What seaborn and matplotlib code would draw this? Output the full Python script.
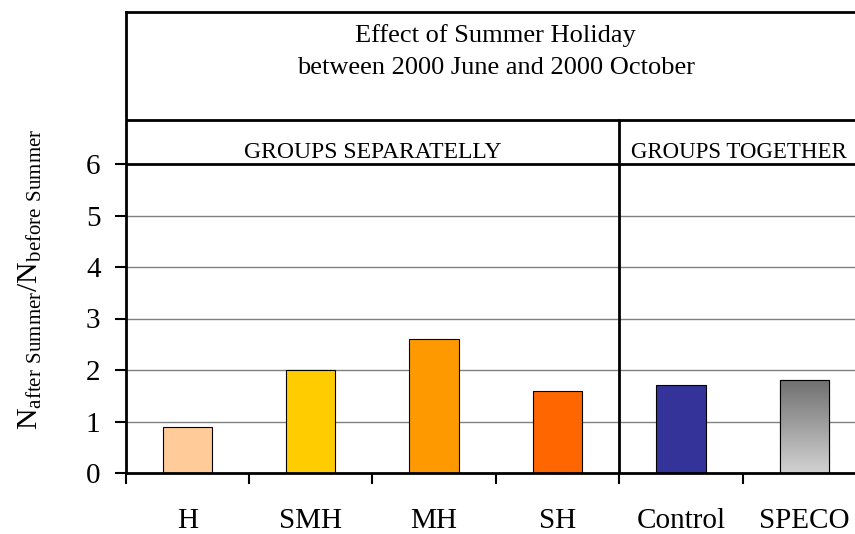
import numpy as np
import pandas as pd
import seaborn as sns
import matplotlib.pyplot as plt

groups = ["H", "SMH", "MH", "SH", "Control", "SPECO"]
ratio = [0.9, 2.0, 2.6, 1.6, 1.7, 1.8]
bar_colors = ["#FFCC99", "#FFCC00", "#FF9900", "#FF6600", "#333399", "#909090"]

df = pd.DataFrame({"group": groups, "ratio": ratio})

sns.set_style("white")
plt.rcParams["font.family"] = ["Liberation Serif", "DejaVu Serif"]
plt.rcParams["mathtext.fontset"] = "custom"
plt.rcParams["mathtext.rm"] = "Liberation Serif"
plt.rcParams["text.color"] = "black"
plt.rcParams["axes.labelcolor"] = "black"
plt.rcParams["axes.edgecolor"] = "black"
plt.rcParams["xtick.color"] = "black"
plt.rcParams["ytick.color"] = "black"

fig = plt.figure(figsize=(8.55, 5.34), dpi=100)
ax = fig.add_axes([125.5 / 855, 61 / 534, 1 - 125.5 / 855, (473 - 12) / 534])

sns.barplot(data=df, x="group", y="ratio", hue="group", palette=bar_colors,
            saturation=1, width=0.4, edgecolor="black", linewidth=0.8,
            legend=False, ax=ax)

top = 461 / 51.5
ax.set_ylim(0, top)
ax.set_xlim(-0.5, 5.41)

# gradient on the SPECO bar
speco = ax.patches[5]
x0, y0 = speco.get_x(), speco.get_y()
w, h = speco.get_width(), speco.get_height()
grad = np.linspace(0.44, 0.82, 100).reshape(-1, 1)
im = ax.imshow(grad, cmap="gray", vmin=0, vmax=1, aspect="auto", origin="upper",
               extent=[x0, x0 + w, y0, y0 + h], zorder=speco.get_zorder() + 0.1)
im.set_clip_path(speco)
ax.add_patch(plt.Rectangle((x0, y0), w, h, fill=False, edgecolor="black",
                           linewidth=0.8, zorder=speco.get_zorder() + 0.2))

# grid and boxes
for v in range(1, 6):
    ax.axhline(v, color="#808080", linewidth=1, zorder=0)
ax.axhline(6, color="black", linewidth=2, zorder=3)
ax.axhline(6.85, color="black", linewidth=2, zorder=3)
ax.plot([3.5, 3.5], [0, 6.85], color="black", linewidth=2, zorder=3)

for s in ["right", "bottom"]:
    ax.spines[s].set_visible(False)
ax.spines["top"].set_linewidth(2)
ax.spines["left"].set_linewidth(2)
ax.axhline(0, color="black", linewidth=2, zorder=4, clip_on=False)

ax.set_yticks(range(0, 7))
ax.tick_params(axis="y", left=True, length=8, width=1.5, labelsize=21, pad=10)
ax.set_xticks(range(len(groups)))
ax.set_xticklabels(groups)
ax.set_xticks(np.arange(-0.5, 5, 1), minor=True)
ax.tick_params(axis="x", which="major", length=0, labelsize=21, pad=25)
ax.tick_params(axis="x", which="minor", bottom=True, length=8, width=1.5)

ax.set_xlabel("")
ax.set_ylabel(r"$\mathregular{N_{after\ Summer}/N_{before\ Summer}}$", fontsize=21.5)
ax.yaxis.label.set_va("center")
ax.yaxis.set_label_coords(-0.13, 0.42)

ax.text(2.5, 8.5, "Effect of Summer Holiday", ha="center", va="center", fontsize=19)
ax.text(2.5, 7.86, "between 2000 June and 2000 October", ha="center", va="center", fontsize=19)
ax.text(1.5, 6.23, "GROUPS SEPARATELLY", ha="center", va="center", fontsize=17)
ax.text(4.47, 6.23, "GROUPS TOGETHER", ha="center", va="center", fontsize=16.5)

fig.savefig("out.png", dpi=100)
